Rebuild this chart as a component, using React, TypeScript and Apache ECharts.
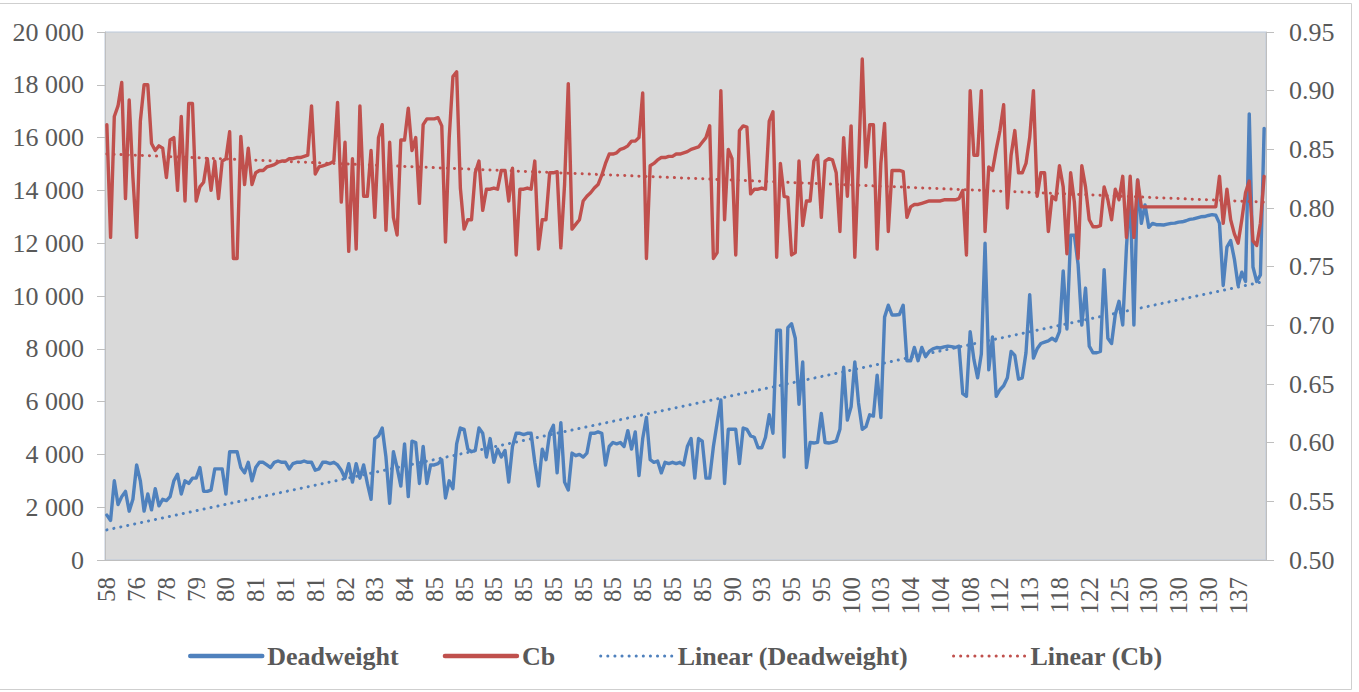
import React, { useEffect, useRef } from 'react';
import * as echarts from 'echarts';

// Axis tick labels (one label every PER_LABEL categories)
const tickLabels = [
  '58', '76', '78', '79', '80', '81', '81', '81', '82', '83', '84',
  '85', '85', '85', '85', '85', '85', '85', '85', '85', '85',
  '90', '93', '95', '95', '100', '103',
  '104', '104', '108', '112', '113', '118', '122', '125', '130', '130', '130', '137',
];
const PER_LABEL = 8;

const deadweight = [
  1700, 1500, 3000, 2100, 2400, 2600, 1850, 2300,
  3600, 3000, 1850, 2500, 1900, 2700, 2050, 2300,
  2250, 2400, 3000, 3250, 2500, 3000, 2900, 3100,
  3100, 3500, 2600, 2600, 2650, 3450, 3450, 3450,
  2500, 4100, 4100, 4100, 3500, 3300, 3700, 3000,
  3500, 3700, 3700, 3600, 3500, 3700, 3750, 3700,
  3700, 3450, 3650, 3700, 3700, 3750, 3700, 3700,
  3400, 3450, 3700, 3700, 3650, 3700, 3600, 3400,
  3100, 3650, 2950, 3650, 3100, 3600, 2900, 2300,
  4600, 4700, 5000, 3900, 2150, 4100, 3500, 2800,
  4400, 2400, 4500, 4450, 2900, 4300, 2900, 3600,
  3600, 3650, 3800, 2350, 3000, 2700, 4400, 5000,
  4950, 4200, 4100, 4150, 5000, 4800, 3900, 4600,
  3700, 4200, 3900, 4150, 2950, 4300, 4800, 4800,
  4750, 4800, 4800, 3700, 2800, 4200, 3800, 4800,
  5100, 3300, 5200, 2950, 2650, 4050, 3950, 4000,
  3900, 4050, 4800, 4800, 4850, 4800, 3600, 4300,
  4450, 4400, 4450, 4300, 4900, 4200, 4850, 3200,
  4600, 5400, 3800, 3700, 3750, 3300, 3700, 3650,
  3700, 3650, 3700, 3600, 4300, 4600, 3100, 4600,
  4500, 3100, 3100, 4300, 5200, 6060, 2900, 4950,
  4950, 4950, 3650, 5000, 4950, 4700, 4650, 4250,
  4250, 4650, 5500, 4800, 8700, 8700, 3900, 8800,
  8950, 8400, 5900, 7500, 3500, 4450, 4430, 4460,
  5550, 4450, 4430, 4460, 4500, 4950, 7300, 5300,
  5800, 7500, 5950, 4950, 5050, 5500, 5450, 7000,
  5400, 9200, 9650, 9280, 9280, 9300, 9650, 7550,
  7550, 8050, 7550, 8050, 7700, 7900, 8000, 8050,
  8030, 8070, 8100, 8080, 8050, 8100, 6300, 6200,
  8650, 7600, 6900, 7800, 12000, 7200, 8450, 6200,
  6450, 6600, 6900, 7900, 7750, 6850, 6900, 7850,
  10050, 7650, 8000, 8200, 8250, 8300, 8400, 8300,
  8650, 10950, 8750, 12300, 12300, 11200, 8900, 10300,
  8100, 7850, 7850, 7900, 11000, 8400, 8200, 9300,
  9800, 8900, 11850, 13950, 8900, 14400, 12750, 13450,
  12600, 12750, 12700, 12700, 12690, 12720, 12750, 12760,
  12800, 12810, 12850, 12900, 12920, 12960, 13000, 13010,
  13050, 13080, 13060, 12750, 10400, 11850, 12100, 11400,
  10400, 10900, 10550, 16900, 11100, 10550, 10800, 16350,
];

const cb = [
  0.871, 0.775, 0.878, 0.887, 0.907, 0.808, 0.892, 0.826,
  0.775, 0.874, 0.905, 0.905, 0.855, 0.849, 0.853, 0.851,
  0.826, 0.858, 0.860, 0.815, 0.878, 0.806, 0.889, 0.889,
  0.806, 0.818, 0.822, 0.842, 0.815, 0.840, 0.808, 0.840,
  0.842, 0.865, 0.757, 0.757, 0.861, 0.820, 0.851, 0.820,
  0.830, 0.832, 0.832, 0.835, 0.836, 0.837, 0.839, 0.840,
  0.840, 0.842, 0.842, 0.843, 0.843, 0.844, 0.845, 0.887,
  0.829, 0.835, 0.836, 0.837, 0.838, 0.840, 0.890, 0.805,
  0.856, 0.763, 0.842, 0.765, 0.887, 0.810, 0.810, 0.849,
  0.792, 0.860, 0.871, 0.781, 0.856, 0.792, 0.777, 0.858,
  0.858, 0.885, 0.849, 0.860, 0.804, 0.871, 0.876, 0.876,
  0.876, 0.877, 0.870, 0.771, 0.860, 0.912, 0.916, 0.817,
  0.782, 0.790, 0.790, 0.830, 0.840, 0.798, 0.816, 0.816,
  0.817, 0.816, 0.832, 0.832, 0.806, 0.834, 0.760, 0.816,
  0.816, 0.817, 0.816, 0.840, 0.765, 0.790, 0.790, 0.830,
  0.830, 0.831, 0.766, 0.820, 0.906, 0.782, 0.786, 0.790,
  0.806, 0.810, 0.813, 0.817, 0.820, 0.828, 0.838, 0.846,
  0.846, 0.847, 0.850, 0.851, 0.853, 0.857, 0.857, 0.860,
  0.898, 0.757, 0.836, 0.838, 0.841, 0.843, 0.843, 0.844,
  0.844, 0.846, 0.846, 0.847, 0.848, 0.850, 0.851, 0.852,
  0.856, 0.860, 0.870, 0.757, 0.762, 0.900, 0.790, 0.850,
  0.842, 0.760, 0.866, 0.870, 0.869, 0.812, 0.816, 0.816,
  0.817, 0.816, 0.874, 0.882, 0.758, 0.838, 0.810, 0.809,
  0.760, 0.762, 0.840, 0.785, 0.806, 0.806, 0.840, 0.845,
  0.792, 0.840, 0.842, 0.841, 0.830, 0.780, 0.860, 0.810,
  0.870, 0.758, 0.838, 0.927, 0.835, 0.871, 0.871, 0.765,
  0.838, 0.872, 0.780, 0.832, 0.832, 0.832, 0.831, 0.792,
  0.801, 0.803, 0.803, 0.804, 0.805, 0.806, 0.806, 0.806,
  0.806, 0.807, 0.807, 0.807, 0.807, 0.808, 0.815, 0.760,
  0.900, 0.845, 0.845, 0.900, 0.780, 0.835, 0.832, 0.850,
  0.866, 0.888, 0.800, 0.845, 0.866, 0.830, 0.830, 0.838,
  0.860, 0.900, 0.810, 0.830, 0.830, 0.780, 0.810, 0.807,
  0.836, 0.818, 0.761, 0.830, 0.805, 0.757, 0.836, 0.818,
  0.790, 0.784, 0.784, 0.785, 0.818, 0.807, 0.790, 0.816,
  0.807, 0.827, 0.775, 0.827, 0.775, 0.824, 0.801, 0.801,
  0.801, 0.801, 0.801, 0.801, 0.801, 0.801, 0.801, 0.801,
  0.801, 0.801, 0.801, 0.801, 0.801, 0.801, 0.801, 0.801,
  0.801, 0.801, 0.801, 0.827, 0.787, 0.816, 0.790, 0.778,
  0.770, 0.790, 0.813, 0.823, 0.772, 0.768, 0.787, 0.827,
];

// Linear trend lines: value at the first and at the last category
const dwTrend = [1140, 10550];
const cbTrend = [0.846, 0.805];

const BLUE = '#4F81BD';
const RED = '#C0504D';

export default function App() {
  const ref = useRef<HTMLDivElement>(null);

  useEffect(() => {
    const chart = echarts.init(ref.current as HTMLDivElement, null, { renderer: 'svg' });
    const categories = deadweight.map((_, i) => String(i));
    const last = deadweight.length - 1;
    const font = "'Liberation Serif', 'Times New Roman', serif";
    const axisColor = '#BFBFBF';
    const labelColor = '#595959';
    const dotted = [0.1, 7];

    chart.setOption({
      animation: false,
      backgroundColor: '#FFFFFF',
      textStyle: { fontFamily: font },
      grid: {
        left: 105, right: 93, top: 32, bottom: 132,
        show: true, backgroundColor: '#D9D9D9', borderColor: '#BCC9DA', borderWidth: 1,
      },
      legend: {
        left: 188, top: 643, padding: 0,
        itemWidth: 72, itemHeight: 8, itemGap: 44,
        itemStyle: { opacity: 0 },
        textStyle: { fontFamily: font, fontSize: 26, fontWeight: 'bold', color: labelColor },
        data: [
          { name: 'Deadweight', lineStyle: { width: 4.5 } },
          { name: 'Cb', lineStyle: { width: 4.5 } },
          { name: 'Linear (Deadweight)', lineStyle: { width: 3 } },
          { name: 'Linear (Cb)', lineStyle: { width: 3 } },
        ],
      },
      xAxis: {
        type: 'category',
        data: categories,
        boundaryGap: true,
        axisLine: { lineStyle: { color: axisColor, width: 1 } },
        axisTick: { show: false },
        axisLabel: {
          interval: PER_LABEL - 1,
          rotate: 90,
          margin: 17,
          fontSize: 25,
          fontFamily: font,
          color: labelColor,
          formatter: (_v: string, idx: number) => tickLabels[Math.floor(idx / PER_LABEL)],
        },
        splitLine: { show: false },
      },
      yAxis: [
        {
          type: 'value', position: 'left', min: 0, max: 20000, interval: 2000,
          axisLine: { show: true, lineStyle: { color: axisColor } },
          axisTick: { show: true, length: 8, lineStyle: { color: axisColor } },
          splitLine: { show: false },
          axisLabel: {
            margin: 21, fontSize: 26, fontFamily: font, color: labelColor,
            formatter: (v: number) => String(v).replace(/\B(?=(\d{3})+(?!\d))/g, ' '),
          },
        },
        {
          type: 'value', position: 'right', min: 0.5, max: 0.95, interval: 0.05,
          axisLine: { show: true, lineStyle: { color: axisColor } },
          axisTick: { show: true, length: 8, lineStyle: { color: axisColor } },
          splitLine: { show: false },
          axisLabel: {
            margin: 23, fontSize: 26, fontFamily: font, color: labelColor,
            formatter: (v: number) => v.toFixed(2),
          },
        },
      ],
      series: [
        {
          name: 'Deadweight', type: 'line', yAxisIndex: 0, data: deadweight,
          symbol: 'none', itemStyle: { color: BLUE },
          lineStyle: { color: BLUE, width: 3.4, join: 'round', cap: 'round' },
        },
        {
          name: 'Cb', type: 'line', yAxisIndex: 1, data: cb,
          symbol: 'none', itemStyle: { color: RED },
          lineStyle: { color: RED, width: 3.4, join: 'round', cap: 'round' },
        },
        {
          name: 'Linear (Deadweight)', type: 'line', yAxisIndex: 0,
          data: [[0, dwTrend[0]], [last, dwTrend[1]]],
          symbol: 'none', itemStyle: { color: BLUE },
          lineStyle: { color: BLUE, width: 3, type: dotted, cap: 'round' },
        },
        {
          name: 'Linear (Cb)', type: 'line', yAxisIndex: 1,
          data: [[0, cbTrend[0]], [last, cbTrend[1]]],
          symbol: 'none', itemStyle: { color: RED },
          lineStyle: { color: RED, width: 3, type: dotted, cap: 'round' },
        },
      ],
      graphic: [
        {
          type: 'rect', silent: true, z: -10,
          shape: { x: -1, y: 3.5, width: 1352.5, height: 686 },
          style: { fill: 'none', stroke: '#CFCFCF', lineWidth: 1 },
        },
      ],
    });

    return () => chart.dispose();
  }, []);

  return (
    <div
      ref={ref}
      style={{ position: 'absolute', left: 0, top: 0, width: 1359, height: 692 }}
    />
  );
}
